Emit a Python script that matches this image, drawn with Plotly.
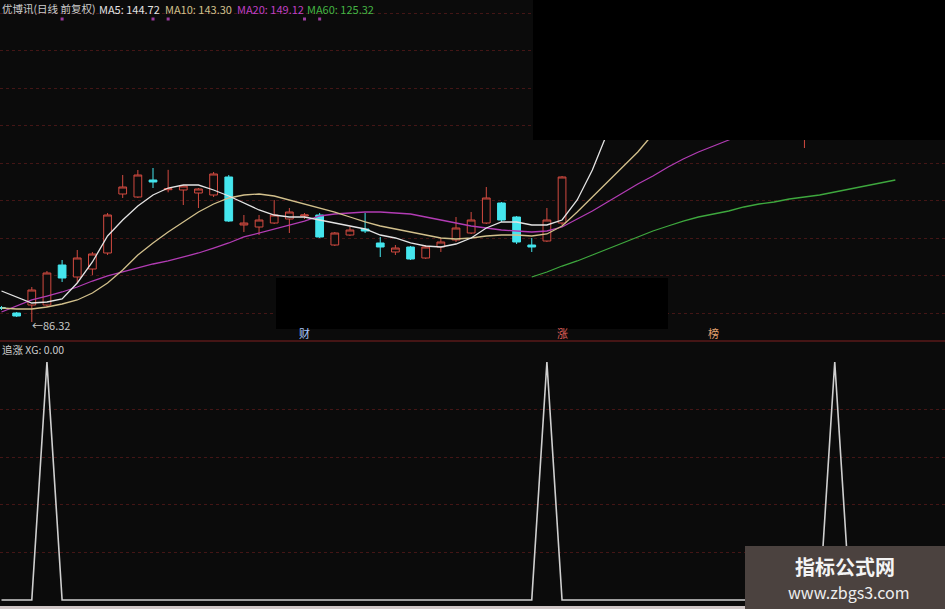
import plotly.graph_objects as go

W, H = 945, 609
BG = "#0b0b0b"

# ---------------- data ----------------
bars = list(range(60))
opens = [90.19, 88.72, 90.85, 90.85, 101.52, 98.32, 100.45, 104.72, 120.45, 119.65,
         124.19, 121.60, 121.52, 120.72, 120.19, 124.99, 112.19, 111.65, 112.72, 113.79,
         114.59, 114.85, 106.85, 109.52, 111.12, 107.39, 104.99, 106.32, 103.39, 106.32,
         108.19, 110.05, 112.72, 118.05, 114.32, 106.85, 107.92, 112.72, 136.00, 151.30,
         160.00, 175.00, 190.00, 205.00, 186.00, 176.00, 183.00, 168.00, 164.00, 170.00,
         159.00, 154.00, 149.00, 137.00, 141.00, 145.00, 150.00, 147.00, 143.00, 141.00]
highs = [90.59, 88.99, 95.65, 99.92, 102.85, 105.52, 104.99, 115.39, 125.52, 126.85,
         127.39, 126.90, 122.85, 122.05, 126.32, 125.52, 114.85, 114.85, 118.85, 116.72,
         115.39, 115.39, 110.32, 111.65, 115.39, 108.99, 106.85, 106.59, 106.85, 108.72,
         114.32, 115.65, 122.32, 118.32, 114.59, 108.72, 116.72, 125.25, 137.60, 151.30,
         166.40, 183.00, 201.30, 212.00, 194.00, 188.00, 186.00, 172.00, 175.00, 171.00,
         162.00, 157.00, 151.00, 142.00, 147.00, 153.00, 151.00, 148.00, 144.00, 146.00]
lows = [89.52, 87.65, 86.32, 90.32, 96.99, 96.72, 98.85, 104.19, 119.39, 119.39,
        122.05, 120.90, 117.52, 116.72, 119.65, 112.99, 110.32, 109.52, 112.45, 110.05,
        113.79, 108.72, 106.59, 109.25, 110.05, 103.65, 104.19, 102.85, 103.12, 104.99,
        107.65, 109.79, 112.45, 112.99, 107.12, 104.99, 107.65, 112.19, 135.50, 151.30,
        158.00, 172.00, 186.00, 188.00, 175.00, 172.00, 168.00, 160.00, 162.00, 158.00,
        152.00, 147.00, 143.00, 132.72, 139.00, 143.00, 144.00, 141.00, 138.00, 139.50]
closes = [89.92, 87.92, 94.85, 99.39, 98.05, 103.39, 104.45, 114.85, 122.32, 125.52,
          123.65, 121.90, 122.59, 121.79, 125.79, 113.25, 112.72, 113.52, 114.85, 115.65,
          114.85, 108.99, 110.05, 110.85, 110.59, 106.32, 106.05, 103.12, 106.32, 107.65,
          111.39, 113.52, 119.39, 113.52, 107.65, 106.32, 113.52, 124.99, 137.50, 151.30,
          166.40, 183.00, 201.30, 190.00, 178.00, 185.00, 170.00, 165.00, 172.00, 160.00,
          155.00, 150.00, 146.00, 140.00, 145.00, 150.00, 147.00, 143.00, 141.00, 145.00]

ma5 = [94.59, 92.99, 91.39, 91.65, 92.45, 96.72, 102.32, 109.25, 113.52, 117.25,
       120.19, 122.05, 122.85, 122.85, 121.52, 119.92, 118.05, 116.19, 114.85, 114.32,
       114.32, 113.52, 112.72, 111.92, 111.12, 109.52, 108.72, 107.39, 106.59, 106.32,
       107.12, 108.72, 111.39, 112.99, 112.99, 112.19, 112.19, 113.52, 118.85, 126.85,
       136.99, 146.85] + [None] * 18
ma10 = [90.05, 89.79, 89.79, 90.32, 91.12, 92.19, 94.05, 96.72, 100.19, 104.19,
        107.39, 110.32, 112.99, 115.65, 117.79, 119.39, 120.19, 120.45, 119.92, 118.85,
        117.79, 116.72, 115.65, 114.32, 112.99, 111.92, 111.12, 110.32, 109.52, 108.72,
        108.45, 108.72, 109.25, 109.52, 109.52, 109.25, 109.79, 111.92, 115.65, 119.65,
        123.65, 127.39, 131.65, 136.45, 141.52] + [None] * 15
ma20 = [88.99, 90.59, 92.19, 93.25, 94.32, 95.65, 97.25, 98.59, 99.65, 100.72,
        101.79, 102.59, 103.65, 104.72, 106.05, 107.39, 108.99, 110.05, 111.12, 112.19,
        113.25, 114.59, 115.12, 115.39, 115.65, 115.65, 115.39, 115.12, 114.32, 113.52,
        112.72, 111.92, 111.39, 110.85, 110.59, 110.32, 110.59, 111.65, 113.79, 115.92,
        118.32, 120.72, 123.12, 125.25, 127.65, 129.79, 131.65, 133.25, 134.85, 136.45,
        138.05] + [None] * 9
ma60 = [None] * 35 + [98.32, 99.65, 101.25, 102.59, 104.19, 105.79, 107.39, 108.99, 110.59, 111.92,
                      113.25, 114.32, 115.12, 115.92, 116.99, 117.79, 118.32, 119.12, 119.65, 120.19,
                      120.99, 121.79, 122.59, 123.39, 124.19]

xg = [0, 0, 0, 1, 0, 0, 0, 0, 0, 0,
      0, 0, 0, 0, 0, 0, 0, 0, 0, 0,
      0, 0, 0, 0, 0, 0, 0, 0, 0, 0,
      0, 0, 0, 0, 0, 0, 1, 0, 0, 0,
      0, 0, 0, 0, 0, 0, 0, 0, 0, 0,
      0, 0, 0, 0, 0, 1, 0, 0, 0, 0]

info_marks = [4, 10, 11, 20, 21]
event_bars = [20, 37, 47]
event_texts = ["财", "涨", "榜"]
event_colors = ["#a9c6ff", "#e0605a", "#e2a070"]

title_name = "优博讯(日线 前复权)"
ma_labels = ["MA5: 144.72", "MA10: 143.30", "MA20: 149.12", "MA60: 125.32"]
low_label = "←86.32"
sub_label = "追涨 XG: 0.00"

# ---------------- style ----------------
RED = "#d24a40"
CYAN = "#45e6ee"
C_MA5 = "#e4e4e4"
C_MA10 = "#d2c08c"
C_MA20 = "#b23cb4"
C_MA60 = "#3ea83e"
GRID = "#441616"
FONT = "Noto Sans CJK SC, DejaVu Sans, sans-serif"

XR = [-0.099, 62.277]
UP_TOP, UP_BOT = 172.187, 81.52      # price range of upper panel (pixel 0..340)
LO_RANGE = [-0.0378, 1.084]


def px_x(p):
    return p / W


def px_y(p):
    return 1 - p / H


def up_price(p):
    return UP_TOP - (p / 340.0) * (UP_TOP - UP_BOT)


fig = go.Figure()
fig.add_trace(go.Candlestick(
    x=bars, open=opens, high=highs, low=lows, close=closes,
    increasing=dict(line=dict(color=RED, width=1), fillcolor=BG),
    decreasing=dict(line=dict(color=CYAN, width=1), fillcolor=CYAN),
    whiskerwidth=0, xaxis="x", yaxis="y", hoverinfo="skip", showlegend=False))

for vals, col in [(ma60, C_MA60), (ma20, C_MA20), (ma10, C_MA10), (ma5, C_MA5)]:
    fig.add_trace(go.Scatter(x=bars, y=vals, mode="lines", line=dict(color=col, width=1.3),
                             xaxis="x", yaxis="y", hoverinfo="skip", showlegend=False))

fig.add_trace(go.Scatter(x=info_marks, y=[up_price(19)] * len(info_marks), mode="markers",
                         marker=dict(symbol="square", size=3, color="#9a3c9c"),
                         xaxis="x", yaxis="y", hoverinfo="skip", showlegend=False))

fig.add_trace(go.Scatter(x=bars, y=xg, mode="lines", line=dict(color="#cfcfcf", width=1.6),
                         xaxis="x2", yaxis="y2", hoverinfo="skip", showlegend=False))

shapes = [
    # panel separator
    dict(type="line", xref="paper", yref="paper", x0=0, x1=1, y0=px_y(341), y1=px_y(341),
         line=dict(color="#5a1a1a", width=1.5), layer="above"),
    # bottom border
    dict(type="rect", xref="paper", yref="paper", x0=0, x1=1, y0=0, y1=px_y(606),
         fillcolor="#cfc6c6", line=dict(width=0), layer="above"),
    # redaction boxes
    dict(type="rect", xref="paper", yref="paper", x0=px_x(533), x1=1.01, y0=px_y(140), y1=1.01,
         fillcolor="#000000", line=dict(width=0), layer="above"),
    dict(type="rect", xref="paper", yref="paper", x0=px_x(276), x1=px_x(668), y0=px_y(329), y1=px_y(278),
         fillcolor="#000000", line=dict(width=0), layer="above"),
    # watermark box
    dict(type="rect", xref="paper", yref="paper", x0=px_x(745), x1=1.01, y0=-0.01, y1=px_y(546),
         fillcolor="#4b423f", line=dict(width=0), layer="above"),
]

ann = []


def add_text(text, x, y, color, size=11, xanchor="left", bold=False):
    ann.append(dict(text=("<b>%s</b>" % text) if bold else text, x=px_x(x), y=px_y(y),
                    xref="paper", yref="paper", xanchor=xanchor, yanchor="middle",
                    showarrow=False, font=dict(family=FONT, size=size, color=color)))


add_text(title_name, 0, 9, "#cdcdcd", size=10.5)
ma_x = [97, 163, 235, 305]
ma_cols = [C_MA5, C_MA10, "#c040c4", "#44b444"]
for t, xx, cc in zip(ma_labels, ma_x, ma_cols):
    add_text(t, xx, 9, cc)
add_text(sub_label, 0, 349, "#cdcdcd", size=10.5)
add_text(low_label, 30, 325, "#c8c8c8")

for b, t, cc in zip(event_bars, event_texts, event_colors):
    ann.append(dict(text=t, x=b, y=px_y(333), xref="x", yref="paper", xanchor="center",
                    yanchor="middle", showarrow=False, font=dict(family=FONT, size=11, color=cc)))

add_text("指标公式网", 845, 566, "#f4f4f4", size=20, xanchor="center", bold=True)
add_text("www.zbgs3.com", 849, 592, "#eeeeee", size=16, xanchor="center")

fig.update_layout(
    width=W, height=H, margin=dict(l=0, r=0, t=0, b=0),
    paper_bgcolor=BG, plot_bgcolor=BG, showlegend=False,
    boxgap=0.27,
    xaxis=dict(domain=[0, 1], range=XR, visible=False, anchor="y",
               rangeslider=dict(visible=False)),
    yaxis=dict(domain=[px_y(340), 1], range=[UP_BOT, UP_TOP], anchor="x",
               showgrid=True, gridcolor=GRID, griddash="dot", gridwidth=1,
               tick0=88.72, dtick=10, showticklabels=False, ticks="", zeroline=False,
               showline=False),
    xaxis2=dict(domain=[0, 1], range=XR, visible=False, anchor="y2"),
    yaxis2=dict(domain=[0, px_y(342)], range=LO_RANGE, anchor="x2",
                showgrid=True, gridcolor=GRID, griddash="dot", gridwidth=1,
                tickvals=[0.2, 0.4, 0.6, 0.8], showticklabels=False, ticks="",
                zeroline=False, showline=False),
    shapes=shapes, annotations=ann,
)

fig.write_html("out.html", config={"displayModeBar": False},
               post_script="document.body.style.margin='0';document.body.style.overflow='hidden';")
